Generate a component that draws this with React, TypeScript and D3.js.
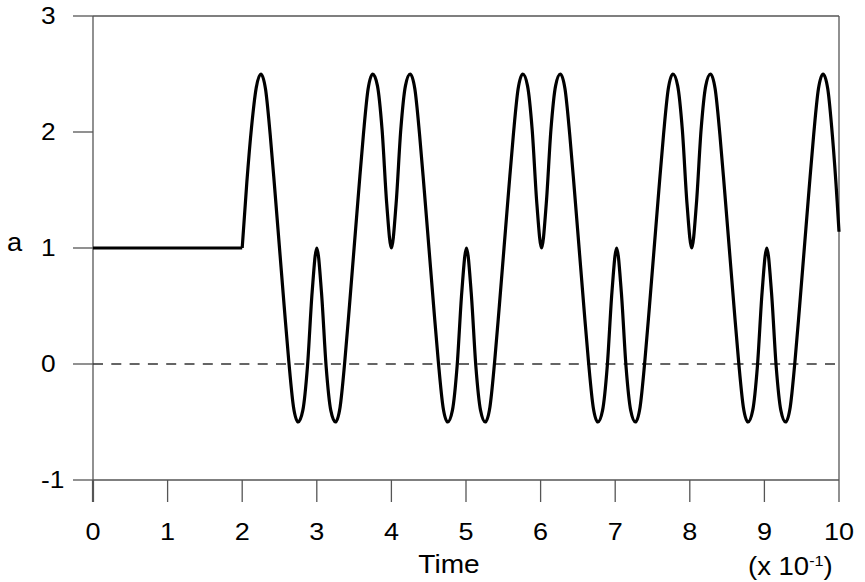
import * as d3 from 'd3'

// flat part before the forcing starts
const flatTimes = [0, 2]
const flatValues = [1, 1]

// sampled response read from the plot: one value per step from t = 2,
// step is 0.0625 up to t = 4 and slightly longer after that (the trace drifts a little)
const oscStart = 2
const earlyStep = 0.0625
const earlySamples = 32
const lateStep = 0.0629
const oscValues = [
  1, 1.57, 2.04, 2.38, 2.5, 2.37, 1.98, 1.5, 1.0, 0.5, 0.02, -0.37, -0.5,
  -0.4, -0.02, 0.62, 1, 0.62, -0.02, -0.4, -0.5,
  -0.37, 0.02, 0.5, 1.0, 1.5, 1.98, 2.37, 2.5, 2.4, 2.02, 1.38, 1,
  // t 4 -> 6
  1.38, 2.02, 2.4, 2.5, 2.37, 1.98, 1.5, 1.0, 0.5, 0.02, -0.37, -0.5,
  -0.4, -0.02, 0.62, 1, 0.62, -0.02, -0.4, -0.5,
  -0.37, 0.02, 0.5, 1.0, 1.5, 1.98, 2.37, 2.5, 2.4, 2.02, 1.38, 1,
  // t 6 -> 8
  1.38, 2.02, 2.4, 2.5, 2.37, 1.98, 1.5, 1.0, 0.5, 0.02, -0.37, -0.5,
  -0.4, -0.02, 0.62, 1, 0.62, -0.02, -0.4, -0.5,
  -0.37, 0.02, 0.5, 1.0, 1.5, 1.98, 2.37, 2.5, 2.4, 2.02, 1.38, 1,
  // t 8 -> 10
  1.38, 2.02, 2.4, 2.5, 2.37, 1.98, 1.5, 1.0, 0.5, 0.02, -0.37, -0.5,
  -0.4, -0.02, 0.62, 1, 0.62, -0.02, -0.4, -0.5,
  -0.37, 0.02, 0.5, 1.0, 1.5, 1.98, 2.37, 2.5, 2.37, 1.96, 1.4,
]
const endTime = 10
const endValue = 1.14

const xTicks = [0, 1, 2, 3, 4, 5, 6, 7, 8, 9, 10]
const yTicks = [-1, 0, 1, 2, 3]

const width = 865
const height = 582
const font = '"Liberation Sans", Arial, Helvetica, sans-serif'
const axisColor = '#555'

interface Pt {
  t: number
  a: number
}

// text in the reference is a little wider than Liberation Sans, so stretch it
function Label({ x, y, size, sx = 1.12, anchor = 'start', children }: {
  x: number
  y: number
  size: number
  sx?: number
  anchor?: string
  children: React.ReactNode
}) {
  return (
    <text
      transform={`translate(${x},${y}) scale(${sx},1)`}
      fontSize={size}
      textAnchor={anchor}
      fill="#000"
    >
      {children}
    </text>
  )
}

export default function App() {
  const x = d3.scaleLinear().domain([0, 10]).range([93, 839])
  const y = d3.scaleLinear().domain([-1, 3]).range([480, 16])

  const flat: Pt[] = flatTimes.map((t, i) => ({ t, a: flatValues[i] }))
  const osc: Pt[] = oscValues.map((a, i) => ({
    t: i <= earlySamples
      ? oscStart + i * earlyStep
      : oscStart + earlySamples * earlyStep + (i - earlySamples) * lateStep,
    a,
  }))
  osc.push({ t: endTime, a: endValue })

  const flatLine = d3.line<Pt>().x(d => x(d.t)).y(d => y(d.a))
  const oscLine = d3.line<Pt>().x(d => x(d.t)).y(d => y(d.a)).curve(d3.curveMonotoneX)

  const [x0, x1] = x.range()
  const [yBot, yTop] = y.range()

  return (
    <svg
      width={width}
      height={height}
      style={{ position: 'absolute', left: 0, top: 0, background: '#fff' }}
      fontFamily={font}
    >
      {/* frame */}
      <g stroke={axisColor} strokeWidth={1.3} fill="none">
        <line x1={x0} x2={x1} y1={yTop} y2={yTop} />
        <line x1={x0} x2={x1} y1={yBot} y2={yBot} />
        <line x1={x0} x2={x0} y1={yTop} y2={yBot} />
        <line x1={x1} x2={x1} y1={yTop} y2={yBot} />
      </g>

      {/* y ticks */}
      {yTicks.map(v => (
        <g key={'y' + v}>
          <line x1={x0 - 20} x2={x0} y1={y(v)} y2={y(v)} stroke={axisColor} strokeWidth={1.3} />
          <Label x={41} y={y(v) + 8} size={23.5} sx={1.12}>{v}</Label>
        </g>
      ))}

      {/* x ticks */}
      {xTicks.map(v => (
        <g key={'x' + v}>
          <line x1={x(v)} x2={x(v)} y1={yBot} y2={yBot + 22} stroke={axisColor} strokeWidth={v === 0 ? 2.2 : 1.3} />
          <Label x={x(v)} y={540} size={23.5} sx={1.15} anchor="middle">{v}</Label>
        </g>
      ))}

      {/* zero reference */}
      <line x1={x0} x2={x1} y1={y(0)} y2={y(0)} stroke="#333" strokeWidth={1.3} strokeDasharray="10 8.3" />

      {/* response */}
      <path d={flatLine(flat) ?? ''} fill="none" stroke="#000" strokeWidth={3.2} />
      <path d={oscLine(osc) ?? ''} fill="none" stroke="#000" strokeWidth={3.2} strokeLinejoin="round" />

      {/* labels */}
      <Label x={7} y={251} size={26} sx={1.05}>a</Label>
      <Label x={449} y={573} size={26} sx={1.08} anchor="middle">Time</Label>
      <Label x={748} y={575} size={25.5} sx={1.08}>
        (x 10<tspan dy={-9} fontSize={15}>-1</tspan><tspan dy={9} fontSize={25.5}>)</tspan>
      </Label>
    </svg>
  )
}
